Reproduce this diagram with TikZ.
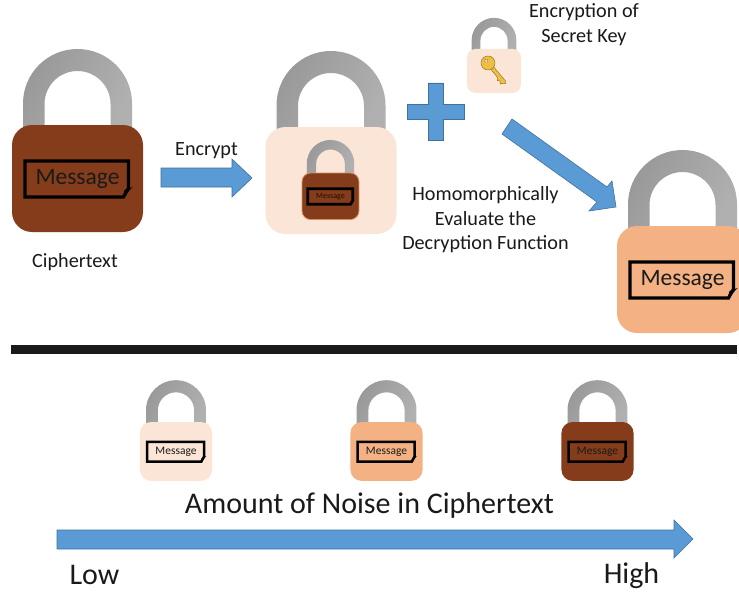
\documentclass[tikz,border=0pt]{standalone}
\usepackage{fontspec}
\setmainfont{Carlito}
\definecolor{peach}{HTML}{FBE5D6}
\definecolor{tan}{HTML}{F4B183}
\definecolor{rust}{HTML}{843C1A}
\definecolor{blockblue}{HTML}{5B9BD5}
\definecolor{blockedge}{HTML}{41719C}
\definecolor{bar}{HTML}{1A1A1A}
\definecolor{ink}{HTML}{1A1A1A}
\definecolor{keygold}{HTML}{EDBF45}
\definecolor{keyedge}{HTML}{9A7424}
\tikzset{
  blockarrow/.style={fill=blockblue,draw=blockedge,line width=.6pt,line join=miter},
  caption/.style={font=\fontsize{20.2}{24.5}\selectfont,text=ink,align=center,inner sep=0pt},
  bigcaption/.style={font=\fontsize{30}{34}\selectfont,text=ink,align=center,inner sep=0pt},
}
% cx, top of body, scale, body colour, extra draw options
\newcommand{\lockbody}[5]{%
  \begin{scope}[shift={(#1,#2)},scale=#3]
    \pgfmathsetmacro{\lockrad}{20*#3}
    \shade[left color=black!40,right color=black!31,shading angle=60]
      (-54.5,2) -- (-54.5,-21.5) .. controls (-54.5,-51.6) and (-30.1,-76) .. (0,-76)
      .. controls (30.1,-76) and (54.5,-51.6) .. (54.5,-21.5) -- (54.5,2) -- (33,2) -- (33,-21)
      .. controls (33,-39.2) and (18.2,-54) .. (0,-54)
      .. controls (-18.2,-54) and (-33,-39.2) .. (-33,-21) -- (-33,2) -- cycle;
    \path[fill=#4,rounded corners=\lockrad pt,#5] (-65.5,0) rectangle (65.5,107);
  \end{scope}}
% name, cx, top, scale, font size, line width, text colour
\newcommand{\lockmsg}[7]{%
  \begin{scope}[shift={(#2,#3)},scale=#4]
    \draw[line width=#6pt,draw=black,line join=miter]
      (-52.5,36) -- (51,36) -- (51,63) -- (46,72) -- (-52.5,72) -- cycle;
    \fill[black] (45,73) -- (55,62) -- (47,65) -- cycle;
    \node[inner sep=0pt,text=#7,font=\fontsize{#5}{#5}\selectfont] (#1) at (0,54) {Message};
  \end{scope}}
\begin{document}
\begin{tikzpicture}[x=1pt,y=-1pt]
\clip (0,0) rectangle (739,594);
\fill[white] (0,0) rectangle (739,594);

% Top row locks
\lockbody{77.5}{125}{1}{rust}{}
\lockmsg{msgA}{77.5}{125}{1}{23.5}{3.2}{ink}

\lockbody{331}{127}{1}{peach}{}
\lockbody{330.5}{173}{.435}{rust}{draw=tan!70!rust,line width=.8pt}
\lockmsg{msgB}{330.5}{173}{.435}{8}{2.8}{black!75!rust}

\lockbody{494}{49}{.41}{peach}{}
% key
\begin{scope}[shift={(488,63)},rotate=-50]
  \fill[draw=keyedge,fill=keygold,line width=.5pt]
    (4,-1.8) -- (25,-1.8) -- (27,0) -- (25,1.8) -- (24,4.2) -- (21.5,2.2) -- (19.5,4.2) -- (17,2) -- (4,1.8) -- cycle;
  \fill[draw=keyedge,fill=keygold,line width=.5pt] (0,0) circle[radius=7];
  \fill[draw=keyedge,fill=peach,line width=.4pt] (-3,0) circle[radius=1.8];
\end{scope}

\lockbody{682.5}{226}{1}{tan}{}
\lockmsg{msgC}{682.5}{226}{1}{23.5}{3.2}{ink}

% Block arrows
\draw[blockarrow] (161,168) -- (232,168) -- (232,159) -- (252,178) -- (232,197) -- (232,187) -- (161,187) -- cycle;
\draw[blockarrow] (428,83) -- (443,83) -- (443,104) -- (464,104) -- (464,119) -- (443,119) -- (443,140) -- (428,140) -- (428,119) -- (407,119) -- (407,104) -- (428,104) -- cycle;
\draw[blockarrow] (512,119) -- (607,187) -- (612,181) -- (616,207) -- (589,211) -- (597,202) -- (502,134) -- cycle;

% Labels
\node[caption] (encrypt) at (206.5,150.5) {Encrypt};
\node[caption] (cipher) at (75,262.5) {Ciphertext};
\node[caption] (enckey) at (584,24.5) {Encryption of\\Secret Key};
\node[caption] (homo) at (485.5,220) {Homomorphically\\Evaluate the\\Decryption Function};

% Divider
\fill[bar] (11,344.5) rectangle (737,354);

% Bottom row locks
\lockbody{176}{422}{.55}{peach}{}
\lockmsg{msgD}{176}{422}{.55}{11.5}{2.5}{ink}
\lockbody{386.5}{422}{.55}{tan}{}
\lockmsg{msgE}{386.5}{422}{.55}{11.5}{2.5}{ink}
\lockbody{597.5}{422}{.55}{rust}{}
\lockmsg{msgF}{597.5}{422}{.55}{11.5}{2.5}{ink}

\node[bigcaption] (noise) at (369.5,505.5) {Amount of Noise in Ciphertext};
\draw[blockarrow] (57,530) -- (674,530) -- (674,520) -- (693,539) -- (674,558) -- (674,549) -- (57,549) -- cycle;
\node[bigcaption] (low) at (94.5,575) {Low};
\node[bigcaption] (high) at (631.5,576) {High};
\end{tikzpicture}
\end{document}
